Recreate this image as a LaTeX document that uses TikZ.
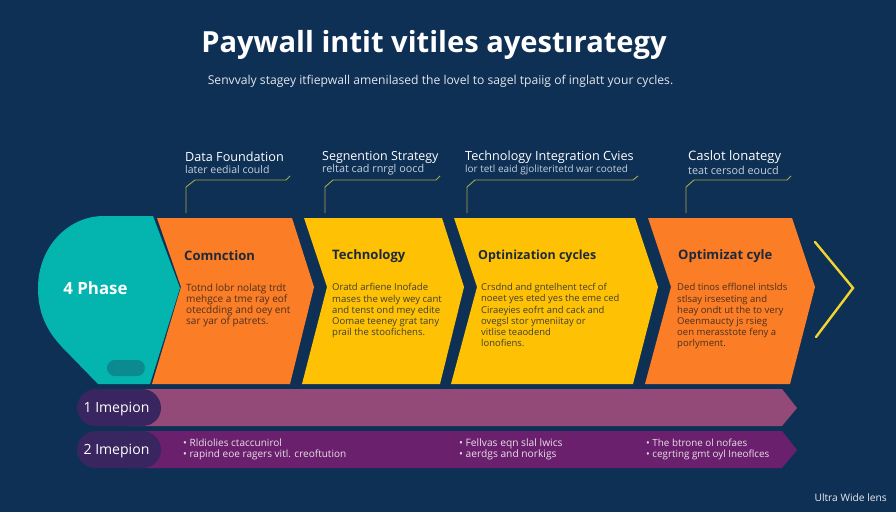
\documentclass[tikz,border=0pt]{standalone}
\usepackage{fontspec}
\setmainfont{Open Sans}
\definecolor{bg}{HTML}{0F3055}
\definecolor{teal1}{HTML}{03B5AE}
\definecolor{teal2}{HTML}{0B8A90}
\definecolor{org}{HTML}{FB7D26}
\definecolor{yel}{HTML}{FEC104}
\definecolor{plum}{HTML}{944A79}
\definecolor{vio}{HTML}{6A206D}
\definecolor{pill}{HTML}{39255F}
\definecolor{cline}{HTML}{A6A94A}
\definecolor{chev}{HTML}{F2D42E}
\definecolor{inkd}{HTML}{1E2A3A}
\definecolor{inkb}{HTML}{4A3020}
\definecolor{soft}{HTML}{C6D0DC}
\tikzset{
  x=0.99626pt,y=-0.99626pt,
  head/.style={anchor=west,inner sep=0pt,text=white,font=\fontsize{12.6}{14}\selectfont},
  sub/.style={anchor=west,inner sep=0pt,text=soft,font=\fontsize{10.5}{11}\selectfont},
  call/.style={draw=cline,line width=0.9pt},
  ctitle/.style={anchor=west,inner sep=0pt,text=inkd,font=\fontsize{13}{14}\selectfont\bfseries},
  cbody/.style={anchor=north west,inner sep=0pt,align=left,text=inkb,font=\fontsize{9.5}{11}\selectfont},
  cbodyb/.style={cbody,text=inkd!85!yel},
  pilltext/.style={inner sep=0pt,text=white,font=\fontsize{14}{15}\selectfont},
  bullet/.style={anchor=north west,inner sep=0pt,align=left,text=white!85!vio,font=\fontsize{10}{11}\selectfont}
}
\begin{document}
\begin{tikzpicture}
\useasboundingbox (0,0) rectangle (896,512);
\fill[bg] (0,0) rectangle (896,512);
% title
\node[inner sep=0pt,text=white,font=\fontsize{29}{34}\selectfont\bfseries] (title) at (434,45) {Paywall intit vitiles ayestırategy};
\node[inner sep=0pt,text=white!88!bg,font=\fontsize{12.1}{15}\selectfont] (subtitle) at (440.5,81.5) {Senvvaly stagey itfiepwall amenilased the lovel to sagel tpaiig of inglatt your cycles.};
% chevrons
\fill[teal1] (153,216) -- (180,288) -- (150,384) -- (98,384) -- (62,347)
  .. controls (46,330) and (38,312) .. (38,288)
  .. controls (38,247) and (68,216) .. (104,216) -- cycle;
\fill[teal2,rounded corners=7.9pt] (107,360) rectangle (145,376);
\fill[org] (157,218) -- (292,218) -- (314,287) -- (290,384) -- (152,384) -- (181,287) -- cycle;
\fill[yel] (304,218) -- (442,218) -- (464,287) -- (440,384) -- (302,384) -- (327,287) -- cycle;
\fill[yel] (454,218) -- (635,218) -- (658,287) -- (633,384) -- (451,384) -- (477,287) -- cycle;
\fill[org] (648,218) -- (792,218) -- (815,287) -- (790,384) -- (645,384) -- (671,287) -- cycle;
\coordinate (ca) at (815,242);
\coordinate (cb) at (853,288);
\coordinate (cc) at (816,337);
\draw[chev,line width=2.4pt,line cap=round,line join=miter] (ca) -- (cb) -- (cc);
% bands
\fill[plum] (130,389) -- (782,389) -- (797,408) -- (782,426) -- (130,426) -- cycle;
\fill[vio] (130,431) -- (782,431) -- (797,450) -- (782,468) -- (130,468) -- cycle;
\fill[pill] (96,389) -- (142,389) .. controls (153,389) and (161,398) .. (161,408) .. controls (161,418) and (153,426) .. (142,426) -- (96,426) .. controls (85,426) and (77,418) .. (77,408) .. controls (77,398) and (85,389) .. (96,389) -- cycle;
\fill[pill] (96,431) -- (142,431) .. controls (153,431) and (161,440) .. (161,450) .. controls (161,460) and (153,468) .. (142,468) -- (96,468) .. controls (85,468) and (77,460) .. (77,450) .. controls (77,440) and (85,431) .. (96,431) -- cycle;
% callouts
\coordinate (a1) at (186,213); \coordinate (a2) at (186,187); \coordinate (a3) at (195,180); \coordinate (a4) at (286,180); \coordinate (a5) at (290,176);
\coordinate (b1) at (325,213); \coordinate (b2) at (325,187); \coordinate (b3) at (333,180); \coordinate (b4) at (436,180); \coordinate (b5) at (440,176);
\coordinate (c1) at (467,213); \coordinate (c2) at (467,187); \coordinate (c3) at (475,180); \coordinate (c4) at (633,180); \coordinate (c5) at (638,176);
\coordinate (d1) at (686,213); \coordinate (d2) at (686,187); \coordinate (d3) at (694,180); \coordinate (d4) at (787,180); \coordinate (d5) at (791,176);
\draw[call] (a1) -- (a2) -- (a3) -- (a4) -- (a5);
\draw[call] (b1) -- (b2) -- (b3) -- (b4) -- (b5);
\draw[call] (c1) -- (c2) -- (c3) -- (c4) -- (c5);
\draw[call] (d1) -- (d2) -- (d3) -- (d4) -- (d5);
% callout text
\node[head] (h1) at (185,157) {Data Foundation};
\node[sub] (s1) at (185,170) {later eedial could};
\node[head,font=\fontsize{12.4}{14}\selectfont] (h2) at (322,157) {Segnention Strategy};
\node[sub,font=\fontsize{10.8}{11}\selectfont] (s2) at (322,170) {reltat cad rnrgl oocd};
\node[head] (h3) at (465,157) {Technology Integration Cvies};
\node[sub,font=\fontsize{9.9}{11}\selectfont] (s3) at (465,170) {lor tetl eaid gjoliteritetd war cooted};
\node[head,font=\fontsize{13}{14}\selectfont] (h4) at (688,157) {Caslot lonategy};
\node[sub,font=\fontsize{10.8}{11}\selectfont] (s4) at (688,170) {teat cersod eoucd};
% chevron text
\node[inner sep=0pt,text=white,font=\fontsize{16.8}{18}\selectfont\bfseries] (phase) at (95.5,288) {4 Phase};
\node[ctitle] (t1) at (184,256) {Comnction};
\node[ctitle] (t2) at (332,256) {Technology};
\node[ctitle,font=\fontsize{12.4}{14}\selectfont\bfseries] (t3) at (478,256) {Optinization cycles};
\node[ctitle,font=\fontsize{13}{14}\selectfont\bfseries] (t4) at (678,256) {Optimizat cyle};
\node[cbody,font=\fontsize{10}{11}\selectfont] (b1t) at (186,283.5) {Totnd lobr nolatg trdt\\mehgce a tme ray eof\\otecdding and oey ent\\sar yar of patrets.};
\node[cbodyb] (b2t) at (332,283.5) {Oratd arfiene Inofade\\mases the wely wey cant\\and tenst ond mey edite\\Oomae teeney grat tany\\prail the stoofichens.};
\node[cbodyb,font=\fontsize{9.4}{11}\selectfont] (b3t) at (481,283.5) {Crsdnd and gntelhent tecf of\\noeet yes eted yes the eme ced\\Ciraeyies eofrt and cack and\\ovegsl stor ymeniitay or\\vitlise teaodend\\lonofiens.};
\node[cbody] (b4t) at (677,283.5) {Ded tinos efflonel intslds\\stlsay irseseting and\\heay ondt ut the to very\\Oeenmaucty js rsieg\\oen merasstote feny a\\porlyment.};
% band text
\node[pilltext] (p1) at (116.5,409) {1 Imepion};
\node[pilltext] (p2) at (116.5,451.5) {2 Imepion};
\node[bullet] (l1) at (183,438.5) {• Rldiolies ctaccunirol\\• rapind eoe ragers vitl. creoftution};
\node[bullet,font=\fontsize{10.2}{11}\selectfont] (l2) at (459,438.5) {• Fellvas eqn slal lwics\\• aerdgs and norkigs};
\node[bullet,font=\fontsize{9.8}{11}\selectfont] (l3) at (646,438.5) {• The btrone ol nofaes\\• cegrting gmt oyl Ineoflces};
\node[inner sep=0pt,anchor=east,text=white!90!bg,font=\fontsize{10.2}{12}\selectfont] (lens) at (887,498) {Ultra Wide lens};
\end{tikzpicture}
\end{document}
